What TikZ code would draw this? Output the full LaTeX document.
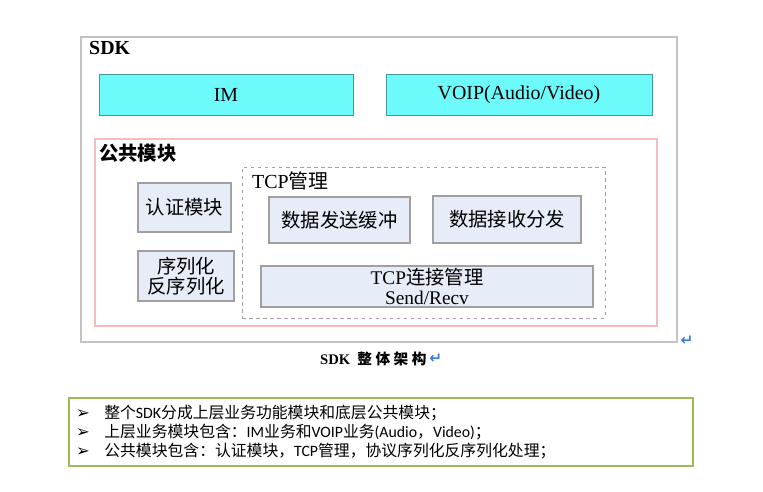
\documentclass[tikz,border=0pt]{standalone}
\usepackage{fontspec}
\usetikzlibrary{positioning}
\setmainfont{Liberation Serif}
\newfontfamily\cjk{Noto Sans CJK SC}
\newfontfamily\carlito{Carlito}
\newfontfamily\dejavu{DejaVu Sans}

\definecolor{upcyan}{RGB}{108,250,250}
\definecolor{upedge}{RGB}{70,150,160}
\definecolor{pinkedge}{RGB}{244,190,190}
\definecolor{boxblue}{RGB}{230,236,248}
\definecolor{boxgray}{RGB}{160,160,160}
\definecolor{sdkgray}{RGB}{195,195,195}
\definecolor{notegreen}{RGB}{155,187,89}
\definecolor{retblue}{RGB}{60,125,215}

\newcommand{\zh}[1]{{\cjk #1}}
\newcommand{\bul}{\makebox[24pt][l]{\dejavu\fontsize{14}{14}\selectfont ➢}}

\tikzset{
  sz/.style 2 args={minimum width=#1*0.03cm, minimum height=#2*0.03cm, inner sep=0pt},
  frame/.style={draw=sdkgray, line width=0.9pt},
  pinkframe/.style={draw=pinkedge, line width=0.9pt},
  tcpframe/.style={draw=boxgray, dashed, line width=0.6pt},
  upbox/.style={draw=upedge, fill=upcyan, line width=0.6pt, font=\fontsize{17}{20}\selectfont},
  modbox/.style={draw=boxgray, fill=boxblue, line width=1.1pt, align=center, font=\fontsize{16.5}{17}\selectfont},
  label/.style={anchor=west, inner sep=0pt},
  notebox/.style={draw=notegreen, line width=0.9pt},
  retmark/.style={text=retblue, font=\dejavu\bfseries\fontsize{13}{13}\selectfont, inner sep=0pt},
}

\begin{document}
\begin{tikzpicture}[x=0.03cm, y=-0.03cm]
  \useasboundingbox (0,0) rectangle (763,491);

  % SDK frame
  \node[frame, sz={596}{305}] (sdk) at (379,189.5) {};
  \node[label, font=\bfseries\fontsize{17}{20}\selectfont] (sdklbl) at (89,48) {SDK};

  % upper business modules
  \node[upbox, sz={254}{41}] (im) at (226,94.5) {IM};
  \node[upbox, sz={266}{41}] (voip) at (519,94.5) {VOIP(Audio/Video)};

  % common modules
  \node[pinkframe, sz={562}{187}] (common) at (376,232.5) {};
  \node[label, font=\cjk\bfseries\fontsize{16.5}{20}\selectfont] (commonlbl) at (99,153) {公共模块};
  \node[modbox, sz={93}{49}] (auth) at (184.5,207.5) {\zh{认证模块}};
  \node[modbox, sz={96}{50}] (ser) at (186,276) {\zh{序列化}\\\zh{反序列化}};

  % TCP management
  \node[tcpframe, sz={363}{151}] (tcp) at (423.5,242.5) {};
  \node[label, font=\fontsize{17}{20}\selectfont] (tcplbl) at (252,181) {TCP\zh{管理}};
  \node[modbox, sz={141}{46}] (send) at (339.5,220) {\zh{数据发送缓冲}};
  \node[modbox, sz={148}{47}] (recv) at (507,219.5) {\zh{数据接收分发}};
  \node[modbox, sz={332}{41}] (conn) at (427,286.5) {TCP\zh{连接管理}\\Send/Recv};

  % caption
  \node[retmark] (ret1) at (687,341) {↵};
  \node[label] (caption) at (320,359)
    {\fontsize{12.5}{14}\selectfont\bfseries SDK\hspace{6pt}\zh{整\hspace{3pt}体\hspace{3pt}架\hspace{3pt}构}};
  \node[retmark, right=2pt of caption] (ret2) {↵};

  % notes
  \node[notebox, sz={624}{68}] (note) at (381,432) {};
  \node[label, align=left, font=\carlito\fontsize{13.5}{16.2}\selectfont] (notetxt) at (76,432)
    {\bul\zh{整个}SDK\zh{分成上层业务功能模块和底层公共模块；}\\
     \bul\zh{上层业务模块包含：}IM\zh{业务和}VOIP\zh{业务}(Audio\zh{，}Video)\zh{；}\\
     \bul\zh{公共模块包含：认证模块，}TCP\zh{管理，协议序列化反序列化处理；}};
\end{tikzpicture}
\end{document}
